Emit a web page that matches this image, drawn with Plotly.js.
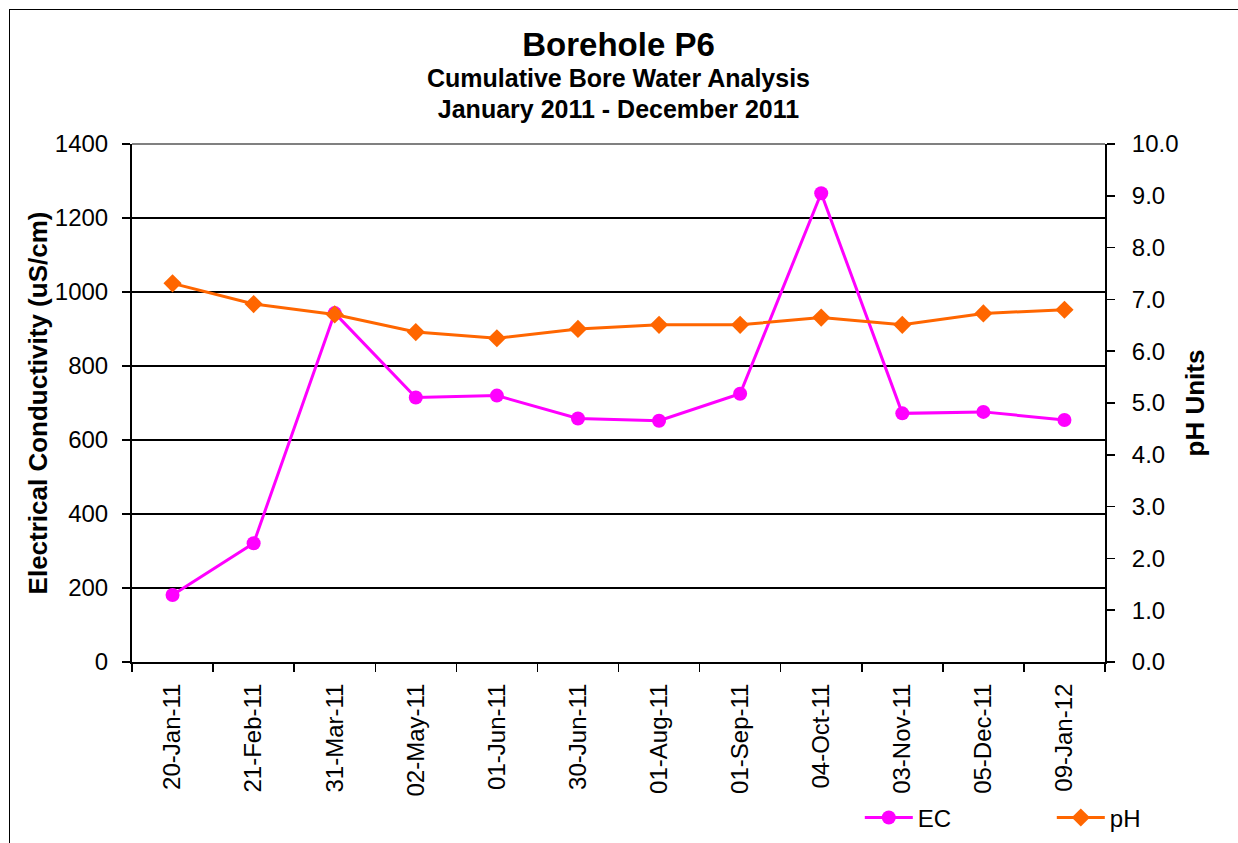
<!DOCTYPE html>
<html>
<head>
<meta charset="utf-8">
<script src="https://cdn.plot.ly/plotly-3.0.1.min.js"></script>
<style>
  html, body { margin: 0; padding: 0; background: #fff; }
  #wrap { position: relative; width: 1238px; height: 843px; overflow: hidden; }
  #frame { position: absolute; left: 9px; top: 9px; width: 1240px; height: 850px; border: 1.5px solid #000; box-sizing: border-box; pointer-events: none; z-index: 5; }
  #chart { position: absolute; left: 0; top: 0; width: 1238px; height: 843px; }
</style>
</head>
<body>
<div id="wrap">
  <div id="chart"></div>
  <div id="frame"></div>
</div>
<script>
const dates = ["20-Jan-11","21-Feb-11","31-Mar-11","02-May-11","01-Jun-11","30-Jun-11","01-Aug-11","01-Sep-11","04-Oct-11","03-Nov-11","05-Dec-11","09-Jan-12"];
const ecValues = [181, 321, 943, 715, 720, 658, 652, 725, 1267, 672, 676, 654];
const phValues = [7.31, 6.91, 6.71, 6.37, 6.25, 6.43, 6.51, 6.51, 6.65, 6.51, 6.73, 6.80];
const ecTicks = [0, 200, 400, 600, 800, 1000, 1200, 1400];
const phTicks = [0, 1, 2, 3, 4, 5, 6, 7, 8, 9, 10];

const FONT = "Liberation Sans, Arial, sans-serif";
const TICKSIZE = 24;
const AXTITLESIZE = 26;

const traces = [
  {
    x: dates, y: ecValues, name: "EC", type: "scatter", mode: "lines+markers",
    line: { color: "#FF00FF", width: 3 },
    marker: { symbol: "circle", size: 14, color: "#FF00FF" },
    yaxis: "y"
  },
  {
    x: dates, y: phValues, name: "pH", type: "scatter", mode: "lines+markers",
    line: { color: "#FF6600", width: 3 },
    marker: { symbol: "diamond", size: 14, color: "#FF6600" },
    yaxis: "y2"
  }
];

const layout = {
  width: 1238, height: 843,
  margin: { l: 132, r: 133, t: 144, b: 181, autoexpand: false },
  paper_bgcolor: "#fff", plot_bgcolor: "#fff",
  font: { family: FONT, color: "#000", size: 20 },
  showlegend: true,
  title: {
    text: "<b><span style='font-size:33px'>Borehole P6</span></b><br><b><span style='font-size:25px'>Cumulative Bore Water Analysis</span></b><br><b><span style='font-size:25px'>January 2011 - December 2011</span></b>",
    font: { family: FONT, size: 24, color: "#000" },
    x: 0.5, xref: "paper", xanchor: "center",
    y: 0.934, yref: "container", yanchor: "top"
  },
  xaxis: {
    type: "category",
    categoryorder: "array", categoryarray: dates,
    range: [-0.5, 11.5],
    tickson: "boundaries",
    ticks: "outside", ticklen: 8, tickwidth: 1.5, tickcolor: "#000",
    tickangle: -90,
    ticklabelstandoff: 10,
    tickfont: { family: FONT, size: TICKSIZE, color: "#000" },
    showline: true, linecolor: "#000", linewidth: 2,
    showgrid: false, zeroline: false, fixedrange: true, automargin: false
  },
  yaxis: {
    range: [0, 1400],
    tickvals: ecTicks,
    ticktext: ecTicks.map(String),
    ticks: "outside", ticklen: 8, tickwidth: 1.5, tickcolor: "#000",
    ticklabelstandoff: 9,
    tickfont: { family: FONT, size: TICKSIZE, color: "#000" },
    showline: true, linecolor: "#000", linewidth: 2,
    showgrid: true, gridcolor: "#000", gridwidth: 1.2,
    zeroline: false, fixedrange: true, automargin: false,
    title: { text: "<b>Electrical Conductivity (uS/cm)</b>", font: { family: FONT, size: AXTITLESIZE, color: "#000" }, standoff: 0 }
  },
  yaxis2: {
    overlaying: "y", side: "right",
    range: [0, 10],
    tickvals: phTicks,
    ticktext: phTicks.map(v => v.toFixed(1)),
    ticks: "outside", ticklen: 8, tickwidth: 1.5, tickcolor: "#000",
    ticklabelstandoff: 12,
    tickfont: { family: FONT, size: TICKSIZE, color: "#000" },
    showline: true, linecolor: "#000", linewidth: 2,
    showgrid: false, zeroline: false, fixedrange: true, automargin: false,
    title: { text: "<b>pH Units</b>", font: { family: FONT, size: AXTITLESIZE, color: "#000" }, standoff: 8 }
  },
  shapes: [
    { type: "line", xref: "paper", yref: "paper", x0: 0, x1: 1, y0: 1, y1: 1, layer: "below", line: { color: "#808080", width: 2 } }
  ],
  legend: {
    orientation: "h",
    x: 0.748, xref: "paper", xanchor: "left",
    y: -0.301, yref: "paper", yanchor: "middle",
    font: { family: FONT, size: 24, color: "#000" },
    bgcolor: "rgba(0,0,0,0)",
    entrywidth: 129, entrywidthmode: "pixels",
    itemwidth: 48, traceorder: "normal"
  }
};

Plotly.newPlot("chart", traces, layout, { displayModeBar: false, staticPlot: true });
</script>
</body>
</html>
